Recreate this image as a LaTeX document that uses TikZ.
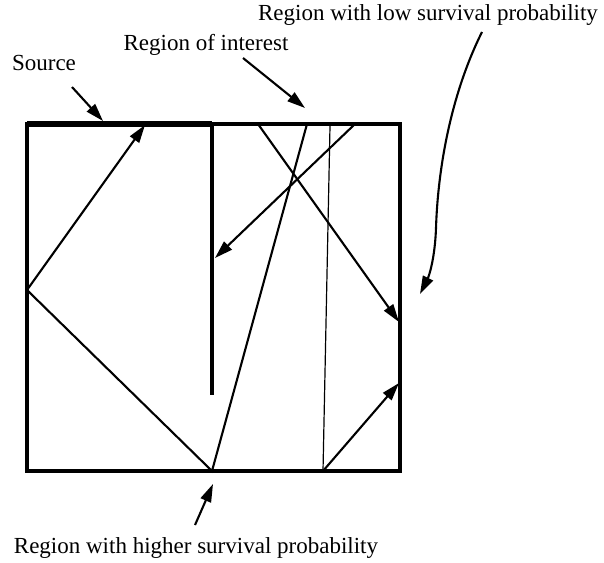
\documentclass[tikz,border=0pt]{standalone}
\usepackage{fontspec}
\setmainfont{Liberation Serif}
\usetikzlibrary{arrows.meta}
\tikzset{
  wall/.style={line width=3.5pt},
  ray/.style={line width=2.1pt},
  tip/.style={-{Triangle[length=18pt,width=11pt]}},
  lbl/.style={font=\fontsize{23}{26}\selectfont, inner sep=0pt}
}
\begin{document}
\begin{tikzpicture}[x=1pt,y=-1pt]
\useasboundingbox (0,0) rectangle (604,562);
% box
\coordinate (tl) at (27,124);
\coordinate (br) at (400,471);
\draw[wall] (tl) rectangle (br);
\draw[line width=5.5pt] (27,124) -- (212,124);
\draw[line width=4.5pt] (212,124) -- (212,395);

% bounce points
\coordinate (l1) at (27,290);
\coordinate (t1) at (145,125);
\coordinate (b1) at (212,471);
\coordinate (t2) at (307,124);
\coordinate (t3) at (258,124);
\coordinate (r1) at (399,322);
\coordinate (t4) at (355,124);
\coordinate (w1) at (215,258);
\coordinate (t5) at (330,126);
\coordinate (b2) at (323,471);
\coordinate (r2) at (399,383);

\draw[ray,tip] (l1) -- (t1);
\draw[ray] (l1) -- (b1) -- (t2);
\draw[ray,tip] (t3) -- (r1);
\draw[ray,tip] (t4) -- (w1);
\draw[line width=1.2pt] (t5) -- (b2);
\draw[ray,tip] (b2) -- (r2);

% labels
\node[lbl] (src) at (44,63) {Source};
\node[lbl] (roi) at (206,45) {Region of interest};
\node[lbl] (low) at (428,15) {Region with low survival probability};
\node[lbl] (high) at (196,548) {Region with higher survival probability};

\draw[ray,tip] (72,87) -- (103,121);
\draw[ray,tip] (243,58) -- (305,108);
\draw[ray,tip] (482,32) .. controls (452,92) and (438,165) .. (436,228)
  .. controls (435,258) and (429,276) .. (420,294);
\draw[ray,tip] (195,525) -- (213,484);
\end{tikzpicture}
\end{document}
